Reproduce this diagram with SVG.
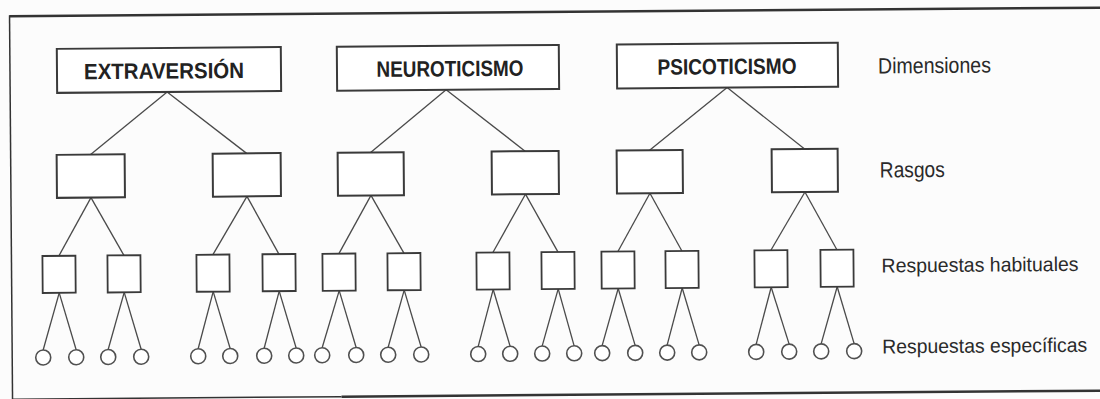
<svg xmlns="http://www.w3.org/2000/svg" width="1100" height="399" viewBox="0 0 1100 399">
<style>
.box{fill:#fff;stroke:#3a3a3a;stroke-width:2}
.sq{fill:#fff;stroke:#3a3a3a;stroke-width:1.8}
.leaf{fill:#fff;stroke:#505050;stroke-width:1.6}
.con line{stroke:#4a4a4a;stroke-width:1.3}
.dim{font-family:"Liberation Sans",Arial,sans-serif;font-weight:bold;font-size:22px;fill:#222;text-anchor:middle}
.lbl{font-family:"Liberation Sans",Arial,sans-serif;font-size:22px;fill:#2a2a2a}
.lbl-long{font-size:20px}
.frame{stroke:#333;fill:none}
</style>
<rect width="1100" height="399" fill="#fcfcfc"/>
<g transform="rotate(-0.45 550 200)">
<g id="frame">
<line class="frame" x1="11" y1="12" x2="1110" y2="12" stroke-width="2.5"/>
<line class="frame" x1="11" y1="11" x2="11" y2="405" stroke-width="1.5" stroke="#777"/>
<line class="frame" x1="11" y1="395" x2="340" y2="395" stroke-width="1.5" stroke="#bbb"/>
<line class="frame" x1="340" y1="395" x2="1110" y2="395" stroke-width="2.5"/>
</g>
<g id="connectors" class="con">
<line x1="168" y1="89" x2="91" y2="151"/><line x1="168" y1="89" x2="247" y2="151"/>
<line x1="447" y1="89" x2="371" y2="151"/><line x1="447" y1="89" x2="525.5" y2="151"/>
<line x1="728" y1="89" x2="650" y2="151"/><line x1="728" y1="89" x2="805" y2="151"/>
<line x1="91" y1="194" x2="58.5" y2="252"/><line x1="91" y1="194" x2="123.5" y2="252"/>
<line x1="247" y1="194" x2="212.5" y2="252"/><line x1="247" y1="194" x2="278.5" y2="252"/>
<line x1="371" y1="194" x2="338.5" y2="252"/><line x1="371" y1="194" x2="403.5" y2="252"/>
<line x1="525.5" y1="194" x2="492.5" y2="252"/><line x1="525.5" y1="194" x2="557.5" y2="252"/>
<line x1="650" y1="194" x2="617.5" y2="252"/><line x1="650" y1="194" x2="681.5" y2="252"/>
<line x1="805" y1="194" x2="770.5" y2="252"/><line x1="805" y1="194" x2="836.5" y2="252"/>
<line x1="58.5" y1="289" x2="42" y2="346"/><line x1="58.5" y1="289" x2="75" y2="346"/>
<line x1="123.5" y1="289" x2="107" y2="346"/><line x1="123.5" y1="289" x2="140" y2="346"/>
<line x1="212.5" y1="289" x2="197" y2="346"/><line x1="212.5" y1="289" x2="229" y2="346"/>
<line x1="278.5" y1="289" x2="263" y2="346"/><line x1="278.5" y1="289" x2="295" y2="346"/>
<line x1="338.5" y1="289" x2="321" y2="346"/><line x1="338.5" y1="289" x2="355" y2="346"/>
<line x1="403.5" y1="289" x2="387" y2="346"/><line x1="403.5" y1="289" x2="420" y2="346"/>
<line x1="492.5" y1="289" x2="477" y2="346"/><line x1="492.5" y1="289" x2="509" y2="346"/>
<line x1="557.5" y1="289" x2="541" y2="346"/><line x1="557.5" y1="289" x2="573" y2="346"/>
<line x1="617.5" y1="289" x2="601" y2="346"/><line x1="617.5" y1="289" x2="634" y2="346"/>
<line x1="681.5" y1="289" x2="666" y2="346"/><line x1="681.5" y1="289" x2="698" y2="346"/>
<line x1="770.5" y1="289" x2="755" y2="346"/><line x1="770.5" y1="289" x2="788" y2="346"/>
<line x1="836.5" y1="289" x2="820" y2="346"/><line x1="836.5" y1="289" x2="853" y2="346"/>
</g>
<g id="dim-extraversion"><rect class="box" x="58" y="45" width="224" height="44"/><text class="dim" x="165" y="75.5" textLength="160" lengthAdjust="spacingAndGlyphs">EXTRAVERSIÓN</text></g>
<g id="dim-neuroticismo"><rect class="box" x="338" y="45" width="222" height="44"/><text class="dim" x="451" y="75.5" textLength="147" lengthAdjust="spacingAndGlyphs">NEUROTICISMO</text></g>
<g id="dim-psicoticismo"><rect class="box" x="618" y="45" width="221" height="44"/><text class="dim" x="728" y="75.5" textLength="139" lengthAdjust="spacingAndGlyphs">PSICOTICISMO</text></g>
<g id="rasgo-1"><rect class="box" x="57" y="151" width="68" height="43"/></g>
<g id="rasgo-2"><rect class="box" x="213" y="151" width="68" height="43"/></g>
<g id="rasgo-3"><rect class="box" x="338" y="151" width="66" height="43"/></g>
<g id="rasgo-4"><rect class="box" x="492" y="151" width="67" height="43"/></g>
<g id="rasgo-5"><rect class="box" x="617" y="151" width="66" height="43"/></g>
<g id="rasgo-6"><rect class="box" x="772" y="151" width="66" height="43"/></g>
<g id="hab-1"><rect class="sq" x="42" y="252" width="33" height="37"/></g>
<g id="hab-2"><rect class="sq" x="107" y="252" width="33" height="37"/></g>
<g id="hab-3"><rect class="sq" x="196" y="252" width="33" height="37"/></g>
<g id="hab-4"><rect class="sq" x="262" y="252" width="33" height="37"/></g>
<g id="hab-5"><rect class="sq" x="322" y="252" width="33" height="37"/></g>
<g id="hab-6"><rect class="sq" x="387" y="252" width="33" height="37"/></g>
<g id="hab-7"><rect class="sq" x="476" y="252" width="33" height="37"/></g>
<g id="hab-8"><rect class="sq" x="541" y="252" width="33" height="37"/></g>
<g id="hab-9"><rect class="sq" x="601" y="252" width="33" height="37"/></g>
<g id="hab-10"><rect class="sq" x="665" y="252" width="33" height="37"/></g>
<g id="hab-11"><rect class="sq" x="754" y="252" width="33" height="37"/></g>
<g id="hab-12"><rect class="sq" x="820" y="252" width="33" height="37"/></g>
<g id="esp-1"><circle class="leaf" cx="42" cy="353.5" r="7.5"/></g>
<g id="esp-2"><circle class="leaf" cx="75" cy="353.5" r="7.5"/></g>
<g id="esp-3"><circle class="leaf" cx="107" cy="353.5" r="7.5"/></g>
<g id="esp-4"><circle class="leaf" cx="140" cy="353.5" r="7.5"/></g>
<g id="esp-5"><circle class="leaf" cx="197" cy="353.5" r="7.5"/></g>
<g id="esp-6"><circle class="leaf" cx="229" cy="353.5" r="7.5"/></g>
<g id="esp-7"><circle class="leaf" cx="263" cy="353.5" r="7.5"/></g>
<g id="esp-8"><circle class="leaf" cx="295" cy="353.5" r="7.5"/></g>
<g id="esp-9"><circle class="leaf" cx="321" cy="353.5" r="7.5"/></g>
<g id="esp-10"><circle class="leaf" cx="355" cy="353.5" r="7.5"/></g>
<g id="esp-11"><circle class="leaf" cx="387" cy="353.5" r="7.5"/></g>
<g id="esp-12"><circle class="leaf" cx="420" cy="353.5" r="7.5"/></g>
<g id="esp-13"><circle class="leaf" cx="477" cy="353.5" r="7.5"/></g>
<g id="esp-14"><circle class="leaf" cx="509" cy="353.5" r="7.5"/></g>
<g id="esp-15"><circle class="leaf" cx="541" cy="353.5" r="7.5"/></g>
<g id="esp-16"><circle class="leaf" cx="573" cy="353.5" r="7.5"/></g>
<g id="esp-17"><circle class="leaf" cx="601" cy="353.5" r="7.5"/></g>
<g id="esp-18"><circle class="leaf" cx="634" cy="353.5" r="7.5"/></g>
<g id="esp-19"><circle class="leaf" cx="666" cy="353.5" r="7.5"/></g>
<g id="esp-20"><circle class="leaf" cx="698" cy="353.5" r="7.5"/></g>
<g id="esp-21"><circle class="leaf" cx="755" cy="353.5" r="7.5"/></g>
<g id="esp-22"><circle class="leaf" cx="788" cy="353.5" r="7.5"/></g>
<g id="esp-23"><circle class="leaf" cx="820" cy="353.5" r="7.5"/></g>
<g id="esp-24"><circle class="leaf" cx="853" cy="353.5" r="7.5"/></g>
<g id="level-labels">
<text class="lbl" x="879" y="76" textLength="113" lengthAdjust="spacingAndGlyphs">Dimensiones</text>
<text class="lbl" x="880" y="180" textLength="65" lengthAdjust="spacingAndGlyphs">Rasgos</text>
<text class="lbl lbl-long" x="881" y="275" textLength="197" lengthAdjust="spacingAndGlyphs">Respuestas habituales</text>
<text class="lbl lbl-long" x="881" y="356" textLength="205" lengthAdjust="spacingAndGlyphs">Respuestas específicas</text>
</g>
</g>
</svg>
